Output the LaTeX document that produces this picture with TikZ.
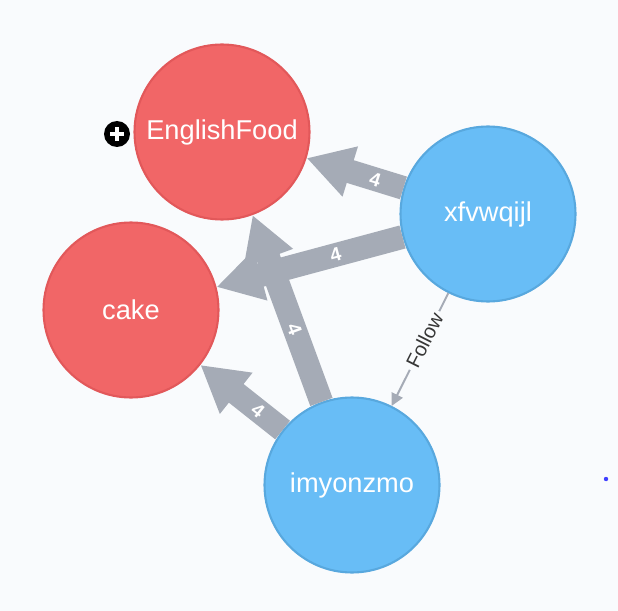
\documentclass[tikz,border=0pt]{standalone}
\usepackage{fontspec}
\setmainfont{Liberation Sans}
\usetikzlibrary{arrows.meta}
\definecolor{foodred}{RGB}{241,102,103}
\definecolor{foodredline}{RGB}{226,88,90}
\definecolor{userblue}{RGB}{104,189,246}
\definecolor{userblueline}{RGB}{88,168,222}
\definecolor{relgray}{RGB}{165,171,182}
\definecolor{pagebg}{RGB}{249,251,253}
\definecolor{captiongray}{RGB}{55,55,55}

\begin{document}
\begin{tikzpicture}[x=0.02cm, y=-0.02cm,
    every node/.style={font=\fontsize{15.5}{18}\selectfont},
    food/.style={circle, draw=foodredline, line width=1.2pt, fill=foodred, text=white, minimum size=3.5cm, inner sep=0pt},
    user/.style={circle, draw=userblueline, line width=1.2pt, fill=userblue, text=white, minimum size=3.5cm, inner sep=0pt},
    rel/.style={draw=relgray, line width=13.5pt, -{Triangle[length=26pt, width=28pt]}},
    count/.style={sloped, font=\bfseries\fontsize{11}{13}\selectfont, text=white, inner sep=1pt},
    follow/.style={draw=relgray, line width=1.1pt, -{Triangle[length=7pt, width=7pt]}}]
    % page
    \fill[pagebg] (0,0) rectangle (618,611);
    % nodes
    \node[food] (englishfood) at (222,132) {EnglishFood};
    \node[food] (cake) at (131,310) {cake};
    \node[user] (xfvwqijl) at (488,214) {xfvwqijl};
    \node[user] (imyonzmo) at (352,485) {imyonzmo};
    % relationships
    \draw[rel] (xfvwqijl) -- node[count, pos=0.29] {4} (englishfood);
    \draw[rel] (xfvwqijl) -- node[count, pos=0.36] {4} (cake);
    \draw[rel] (imyonzmo) -- node[count, pos=0.39] {4} (englishfood);
    \draw[rel] (imyonzmo) -- node[count, pos=0.30] {4} (cake);
    \draw[follow] (xfvwqijl) -- node[sloped, pos=0.42, fill=pagebg, text=captiongray, inner sep=2pt, font=\fontsize{11.5}{13}\selectfont] {Follow} (imyonzmo);
    % cursor and dot
    \fill[black] (117,134) circle (13);
    \fill[white] (110,132) rectangle (124,136);
    \fill[white] (115,127) rectangle (119,141);
    \fill[blue!75] (606,479) circle (2.2);
\end{tikzpicture}
\end{document}
